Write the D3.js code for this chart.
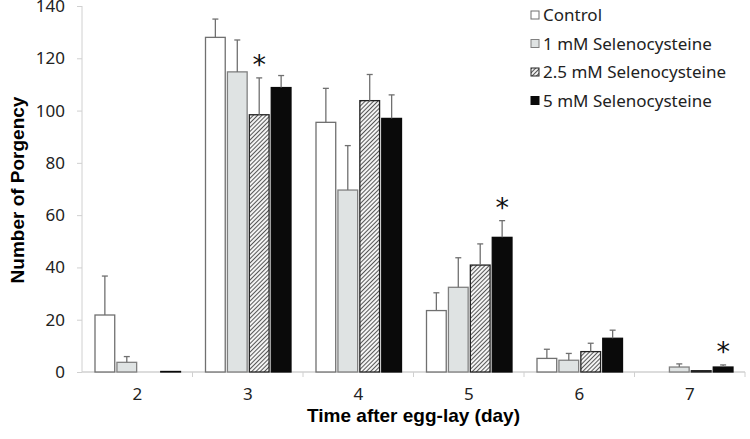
<!DOCTYPE html>
<html>
<head>
<meta charset="utf-8">
<script src="https://cdn.jsdelivr.net/npm/d3@7"></script>
<style>
  body { margin: 0; background: #fff; }
  text { font-family: "Noto Sans", "Open Sans", sans-serif; }
  .title { font-family: "Liberation Sans", Arial, sans-serif; font-weight: bold; font-size: 19px; }
</style>
</head>
<body>
<div id="chart"></div>
<script>
  // data
  var days = ["2", "3", "4", "5", "6", "7"];
  var series = ["Control", "1 mM Selenocysteine", "2.5 mM Selenocysteine", "5 mM Selenocysteine"];
  var control  = [21.8, 128, 95.5, 23.5, 5.2, 0];
  var mM1      = [3.7, 114.8, 69.6, 32.4, 4.5, 1.9];
  var mM25     = [0, 98.4, 103.8, 40.9, 7.8, 0.5];
  var mM5      = [0.2, 108.8, 97, 51.5, 12.9, 1.9];
  var errControl = [14.9, 7, 13, 6.8, 3.5, 0];
  var errM1      = [2.2, 12.2, 17, 11.3, 2.6, 1.2];
  var errM25     = [0, 14.1, 10, 8.1, 3.2, 0];
  var errM5      = [0, 4.6, 9, 6.4, 3.1, 0.8];
  var yTicks = [0, 20, 40, 60, 80, 100, 120, 140];
  // significance stars: [day, series index]
  var stars = [["3", 2], ["5", 3], ["7", 3]];

  var values = [control, mM1, mM25, mM5];
  var errors = [errControl, errM1, errM25, errM5];

  var margin = { top: 6, right: 5, bottom: 67, left: 82 },
      width = 750 - margin.left - margin.right,
      height = 439 - margin.top - margin.bottom;

  var svg = d3.select("#chart")
      .append("svg")
      .attr("width", 750)
      .attr("height", 439);

  var defs = svg.append("defs");
  var pat = defs.append("pattern")
      .attr("id", "hatch")
      .attr("patternUnits", "userSpaceOnUse")
      .attr("width", 3)
      .attr("height", 3)
      .attr("patternTransform", "rotate(45)");
  pat.append("rect").attr("width", 3).attr("height", 3).attr("fill", "#f4f4f4");
  pat.append("line")
      .attr("x1", 0).attr("y1", 0).attr("x2", 0).attr("y2", 3)
      .attr("stroke", "#3a3a3a").attr("stroke-width", 1.7);

  var g = svg.append("g")
      .attr("transform", "translate(" + margin.left + "," + margin.top + ")");

  var x = d3.scaleBand()
      .domain(days)
      .range([0, width])
      .paddingInner(0)
      .paddingOuter(0);

  var x1 = d3.scaleBand()
      .domain(d3.range(series.length))
      .range([13, x.bandwidth() - 12])
      .paddingInner(0.1);

  var y = d3.scaleLinear()
      .domain([0, 140])
      .range([height, 0]);

  var fills = ["#fff", "#dfe3e3", "url(#hatch)", "#0a0a0a"];
  var strokes = ["#707070", "#808080", "#222", "#0a0a0a"];

  // y axis
  var yAxis = g.append("g")
      .call(d3.axisLeft(y).tickValues(yTicks).tickSize(5).tickPadding(12));
  yAxis.selectAll("line").attr("stroke", "#d0d0d0");
  yAxis.select(".domain").attr("stroke", "#d0d0d0").attr("d", "M0," + height + "V0");
  yAxis.selectAll("text").style("font-size", "17px").attr("fill", "#222")
      .style("font-family", "'Noto Sans', sans-serif");

  // x axis, ticks between categories
  var xAxis = g.append("g")
      .attr("transform", "translate(0," + height + ")");
  xAxis.append("line")
      .attr("x1", 0).attr("x2", width)
      .attr("stroke", "#d0d0d0").attr("stroke-width", 1.3);
  xAxis.selectAll(".tk")
      .data(days)
      .enter()
      .append("line")
      .attr("x1", d => x(d) + x.bandwidth())
      .attr("x2", d => x(d) + x.bandwidth())
      .attr("y1", 0).attr("y2", 5)
      .attr("stroke", "#d0d0d0");
  xAxis.selectAll(".lbl")
      .data(days)
      .enter()
      .append("text")
      .attr("x", d => x(d) + x.bandwidth() / 2)
      .attr("y", 28)
      .attr("text-anchor", "middle")
      .style("font-size", "17px")
      .attr("fill", "#222")
      .text(d => d);

  // bars
  series.forEach(function(s, si) {
    var grp = g.append("g");
    grp.selectAll("rect")
        .data(days)
        .enter()
        .append("rect")
        .attr("x", d => x(d) + x1(si))
        .attr("y", (d, i) => y(values[si][i]))
        .attr("width", x1.bandwidth())
        .attr("height", (d, i) => height - y(values[si][i]))
        .attr("fill", fills[si])
        .attr("stroke", (d, i) => values[si][i] > 0 ? strokes[si] : "none")
        .attr("stroke-width", 1.3);

    // error bars
    days.forEach(function(d, i) {
      if (errors[si][i] <= 0) return;
      var cx = x(d) + x1(si) + x1.bandwidth() / 2;
      var top = y(values[si][i] + errors[si][i]);
      grp.append("line")
          .attr("x1", cx).attr("x2", cx)
          .attr("y1", y(values[si][i])).attr("y2", top)
          .attr("stroke", "#707070").attr("stroke-width", 1.3);
      grp.append("line")
          .attr("x1", cx - 3).attr("x2", cx + 3)
          .attr("y1", top).attr("y2", top)
          .attr("stroke", "#707070").attr("stroke-width", 1.3);
    });
  });

  // stars
  stars.forEach(function(st) {
    var i = days.indexOf(st[0]), si = st[1];
    var top = y(values[si][i] + errors[si][i]);
    g.append("text")
        .attr("x", x(st[0]) + x1(si) + x1.bandwidth() / 2)
        .attr("y", top - 4)
        .attr("text-anchor", "middle")
        .style("font-size", "27px")
        .style("font-family", "'DejaVu Sans', sans-serif")
        .attr("fill", "#111")
        .text("*");
  });

  // legend
  var legend = svg.append("g").attr("transform", "translate(531,0)");
  series.forEach(function(s, si) {
    var ly = 15 + si * 28.5;
    legend.append("rect")
        .attr("x", 0).attr("y", ly - 4)
        .attr("width", 8).attr("height", 8)
        .attr("fill", fills[si])
        .attr("stroke", strokes[si]).attr("stroke-width", 1);
    legend.append("text")
        .attr("x", 12).attr("y", ly + 6)
        .style("font-size", "17px")
        .attr("fill", "#222")
        .text(s);
  });

  // axis titles
  svg.append("text")
      .attr("class", "title")
      .attr("x", margin.left + width / 2)
      .attr("y", 422)
      .attr("text-anchor", "middle")
      .text("Time after egg-lay (day)");
  svg.append("text")
      .attr("class", "title")
      .attr("transform", "translate(24," + 190 + ")rotate(-90)")
      .attr("text-anchor", "middle")
      .text("Number of Porgency");
</script>
</body>
</html>
